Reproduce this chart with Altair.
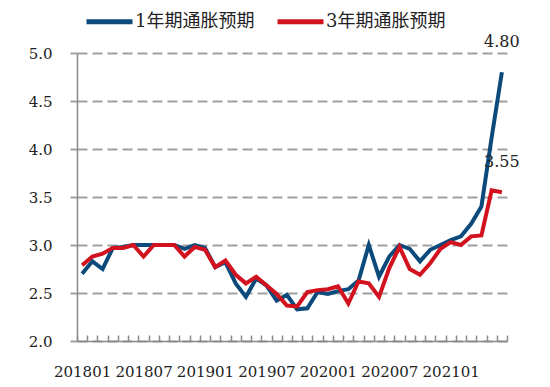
import altair as alt
import pandas as pd

FONT = "DejaVu Serif, Noto Sans CJK SC"

months = [
    "201801", "201802", "201803", "201804", "201805", "201806",
    "201807", "201808", "201809", "201810", "201811", "201812",
    "201901", "201902", "201903", "201904", "201905", "201906",
    "201907", "201908", "201909", "201910", "201911", "201912",
    "202001", "202002", "202003", "202004", "202005", "202006",
    "202007", "202008", "202009", "202010", "202011", "202012",
    "202101", "202102", "202103", "202104", "202105", "202106",
]
tick_labels = ["201801", "201807", "201901", "201907", "202001", "202007", "202101"]

one_year = [
    2.70, 2.83, 2.75, 2.97, 2.98, 3.00, 3.00, 3.00, 3.00, 3.00, 2.96, 3.00,
    2.97, 2.77, 2.82, 2.60, 2.46, 2.65, 2.58, 2.42, 2.48, 2.33, 2.34, 2.51,
    2.49, 2.52, 2.54, 2.63, 3.00, 2.67, 2.88, 3.00, 2.96, 2.83, 2.95, 3.00,
    3.05, 3.09, 3.22, 3.40, 4.12, 4.80,
]
three_year = [
    2.79, 2.88, 2.91, 2.97, 2.97, 3.00, 2.88, 3.00, 3.00, 3.00, 2.88, 2.98,
    2.95, 2.77, 2.84, 2.69, 2.60, 2.67, 2.58, 2.49, 2.37, 2.36, 2.51, 2.53,
    2.54, 2.57, 2.39, 2.62, 2.60, 2.46, 2.76, 2.98, 2.75, 2.69, 2.81, 2.96,
    3.03, 3.00, 3.09, 3.10, 3.57, 3.55,
]
series_names = ["1年期通胀预期", "3年期通胀预期"]
series_colors = ["#0C4A7C", "#D2121E"]

n = len(months)
idx = list(range(n))
df = pd.DataFrame({
    "idx": idx * 2,
    "month": months * 2,
    "value": one_year + three_year,
    "series": [series_names[0]] * n + [series_names[1]] * n,
})
last_df = df[df["idx"] == n - 1]
edges = [i - 0.5 for i in range(n + 1)]

label_positions = [months.index(m) for m in tick_labels]
label_expr = (
    "{" + ",".join(f"'{p}':'{m}'" for p, m in zip(label_positions, tick_labels)) + "}"
    + "[''+round(datum.value)]"
)

x_scale = alt.Scale(domain=[-0.5, n - 0.5], nice=False, zero=False)
y_scale = alt.Scale(domain=[2.0, 5.0], nice=False, zero=False)

x_axis = alt.Axis(
    values=label_positions, labelExpr=label_expr, ticks=False, labelAngle=0,
    labelFont=FONT, labelFontSize=15, labelColor="#222222", labelPadding=23,
    labelFlush=False, labelOverlap=False,
    domainColor="#8a8a8a", domainWidth=1.5, title=None, grid=False,
)
# second x axis that only draws the short monthly ticks, pulled up into the plot
x_tick_axis = alt.Axis(
    orient="bottom", values=edges, labels=False, domain=False, ticks=True,
    tickSize=6, offset=-6, tickColor="#8a8a8a", tickWidth=1.5,
    title=None, grid=False,
)
y_axis = alt.Axis(
    values=[2.0, 2.5, 3.0, 3.5, 4.0, 4.5, 5.0], format=".1f", title=None,
    grid=True, gridDash=[10, 5], gridColor="#a0a0a0", gridWidth=2,
    tickSize=7, tickColor="#a0a0a0", tickWidth=2,
    domainColor="#8a8a8a", domainWidth=1.5,
    labelFont=FONT, labelFontSize=15, labelColor="#222222", labelPadding=18,
)

lines = alt.Chart(df).mark_line(strokeWidth=4).encode(
    x=alt.X("idx:Q", scale=x_scale, axis=x_axis),
    y=alt.Y("value:Q", scale=y_scale, axis=y_axis),
    color=alt.Color(
        "series:N",
        scale=alt.Scale(domain=series_names, range=series_colors),
        legend=alt.Legend(
            title=None, orient="none", legendX=7, legendY=-57,
            direction="horizontal", symbolType="stroke", symbolSize=2116,
            symbolStrokeWidth=5, labelFont=FONT, labelFontSize=18,
            labelColor="#222222", labelOffset=0, columnPadding=12,
        ),
    ),
)

labels = alt.Chart(last_df).mark_text(
    dy=-30, font=FONT, fontSize=16, color="#222222"
).encode(
    x=alt.X("idx:Q", scale=x_scale, axis=x_tick_axis),
    y=alt.Y("value:Q", scale=y_scale),
    text=alt.Text("value:Q", format=".2f"),
)

chart = alt.layer(lines, labels).resolve_axis(x="independent").properties(
    width=430,
    height=288,
    autosize=alt.AutoSizeParams(type="none"),
    padding={"left": 69, "top": 45, "right": 35, "bottom": 46},
).configure_view(strokeWidth=0)

chart.save("out.html", embed_options={"renderer": "svg", "actions": False})
